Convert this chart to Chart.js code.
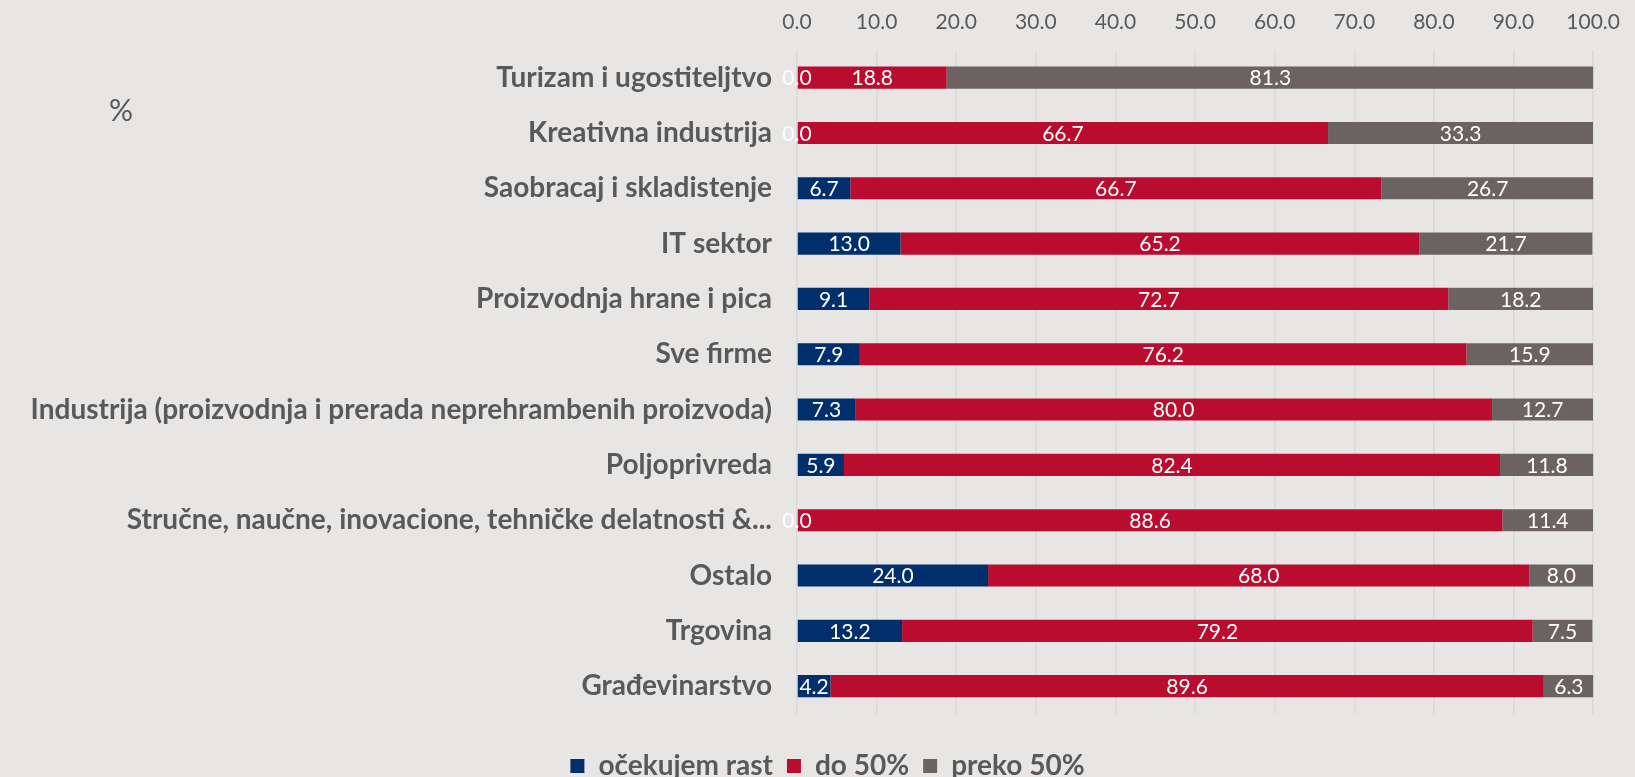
<!DOCTYPE html>
<html>
<head>
<meta charset="utf-8">
<script src="https://cdn.jsdelivr.net/npm/chart.js@4/dist/chart.umd.min.js"></script>
<style>
  html, body { margin: 0; padding: 0; background: #e7e6e5; }
  #wrap { width: 1635px; height: 777px; }
</style>
</head>
<body>
<div id="wrap"><canvas id="barChart" width="1635" height="777"></canvas></div>
<script>
const categories = [
    'Turizam i ugostiteljtvo',
    'Kreativna industrija',
    'Saobracaj i skladistenje',
    'IT sektor',
    'Proizvodnja hrane i pica',
    'Sve firme',
    'Industrija (proizvodnja i prerada neprehrambenih proizvoda)',
    'Poljoprivreda',
    'Stručne, naučne, inovacione, tehničke delatnosti &...',
    'Ostalo',
    'Trgovina',
    'Građevinarstvo'
];
const ocekujemRast = [0.0, 0.0, 6.7, 13.0, 9.1, 7.9, 7.3, 5.9, 0.0, 24.0, 13.2, 4.2];
const do50 = [18.8, 66.7, 66.7, 65.2, 72.7, 76.2, 80.0, 82.4, 88.6, 68.0, 79.2, 89.6];
const preko50 = [81.3, 33.3, 26.7, 21.7, 18.2, 15.9, 12.7, 11.8, 11.4, 8.0, 7.5, 6.3];
const seriesNames = ['očekujem rast', 'do 50%', 'preko 50%'];
const xTickMin = 0, xTickMax = 100, xTickStep = 10;

const textGray = '#595959';
const fontName = 'Lato';

// white value labels in the middle of every segment
const barLabels = {
    id: 'barLabels',
    afterDatasetsDraw(chart) {
        const ctx = chart.ctx;
        ctx.save();
        ctx.fillStyle = '#ffffff';
        ctx.font = '21px ' + fontName;
        ctx.textAlign = 'center';
        ctx.textBaseline = 'middle';
        chart.data.datasets.forEach((ds, i) => {
            chart.getDatasetMeta(i).data.forEach((bar, j) => {
                const p = bar.getProps(['x', 'y', 'base'], true);
                ctx.fillText(ds.data[j].toFixed(1), (p.x + p.base) / 2, p.y + 1);
            });
        });
        ctx.restore();
    }
};

// the lone "%" on the left
const percentSign = {
    id: 'percentSign',
    afterDraw(chart) {
        const ctx = chart.ctx;
        ctx.save();
        ctx.fillStyle = textGray;
        ctx.font = '30px ' + fontName;
        ctx.textAlign = 'center';
        ctx.textBaseline = 'middle';
        ctx.fillText('%', 121, 111);
        ctx.restore();
    }
};

// the legend in the original sits a bit right of the canvas centre
const legendNudge = {
    id: 'legendNudge',
    afterLayout(chart) {
        chart.legend.left += 30;
        chart.legend.right += 30;
    }
};

new Chart(document.getElementById('barChart'), {
    type: 'bar',
    data: {
        labels: categories,
        datasets: [
            { label: seriesNames[0], data: ocekujemRast, backgroundColor: '#002f6c' },
            { label: seriesNames[1], data: do50, backgroundColor: '#ba0c2f' },
            { label: seriesNames[2], data: preko50, backgroundColor: '#6b6361' }
        ]
    },
    options: {
        indexAxis: 'y',
        responsive: false,
        animation: false,
        barPercentage: 0.5,
        categoryPercentage: 0.8,
        layout: {
            padding: { left: 0, right: 40, top: 0, bottom: -13 }
        },
        scales: {
            x: {
                position: 'top',
                stacked: true,
                min: xTickMin,
                max: xTickMax,
                ticks: {
                    stepSize: xTickStep,
                    color: textGray,
                    font: { family: fontName, size: 21 },
                    padding: 15,
                    callback: v => Number(v).toFixed(1)
                },
                grid: { color: '#d9d9d9', lineWidth: 1.5, drawTicks: false },
                border: { display: false },
                afterFit(scale) { scale.height = 50; }
            },
            y: {
                stacked: true,
                ticks: {
                    color: textGray,
                    font: { family: fontName, size: 28, weight: 'bold' },
                    padding: 17,
                    autoSkip: false
                },
                grid: { display: false },
                border: { display: false },
                afterFit(scale) { scale.width = 797; }
            }
        },
        plugins: {
            legend: {
                position: 'bottom',
                labels: {
                    color: textGray,
                    boxWidth: 14,
                    boxHeight: 14,
                    padding: 14,
                    font: { family: fontName, size: 28, weight: 'bold' }
                },
                title: { display: true, text: ' ', font: { size: 1 }, padding: { top: 23, bottom: 0 } }
            },
            tooltip: { enabled: false }
        }
    },
    plugins: [barLabels, percentSign, legendNudge]
});
</script>
</body>
</html>
